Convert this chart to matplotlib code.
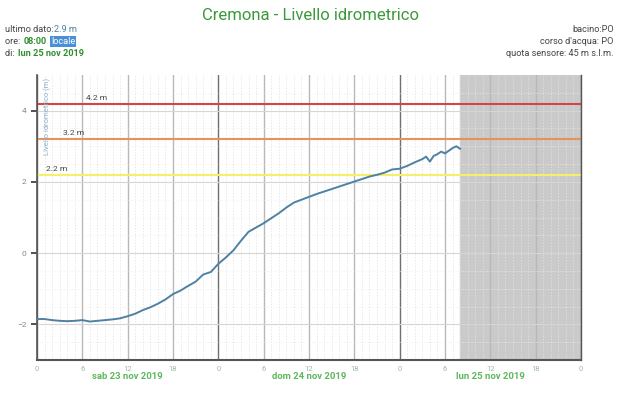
import matplotlib
matplotlib.use('Agg')
import matplotlib.pyplot as plt
from matplotlib.ticker import MultipleLocator

plt.rcParams['font.family'] = ['Roboto', 'DejaVu Sans']

# hours since 00:00 of sab 23 nov 2019
hours = [0, 1, 2, 3, 4, 5, 6, 7, 8, 9, 10, 11, 12, 13, 14, 15, 16, 17, 18, 19,
         20, 21, 22, 23, 24, 25, 26, 27, 28, 29, 30, 31, 32, 33, 34, 35, 36, 37,
         38, 39, 40, 41, 42, 43, 44, 45, 46, 47, 48, 49, 50, 51, 51.5, 52, 52.5,
         53, 53.5, 54, 55, 55.5, 56]
level = [-1.85, -1.85, -1.88, -1.90, -1.91, -1.90, -1.88, -1.92, -1.90, -1.88,
         -1.86, -1.83, -1.77, -1.70, -1.60, -1.52, -1.42, -1.30, -1.15, -1.05,
         -0.92, -0.80, -0.60, -0.53, -0.30, -0.12, 0.08, 0.35, 0.60, 0.72,
         0.84, 0.98, 1.12, 1.28, 1.42, 1.50, 1.58, 1.66, 1.73, 1.80,
         1.87, 1.94, 2.01, 2.08, 2.15, 2.20, 2.26, 2.35, 2.37, 2.45,
         2.55, 2.64, 2.71, 2.57, 2.73, 2.78, 2.85, 2.80, 2.95, 3.00, 2.93]

thresholds = [4.2, 3.2, 2.2]
thr_colors = ['#d64545', '#e8915a', '#f5f06a']
thr_label_x = [6.5, 3.5, 1.2]

xticks = list(range(0, 73, 6))
xticklabels = [str(h % 24) for h in xticks]
days = ['sab 23 nov 2019', 'dom 24 nov 2019', 'lun 25 nov 2019']
last_hour = 56

fig = plt.figure(figsize=(6.2, 3.95), dpi=100)
ax = fig.add_axes([0.0597, 0.0886, 0.8774, 0.7214])

# shaded future area
ax.axvspan(last_hour, 72, color='#cacaca', zorder=0)

# grid: midnight / 6h / hourly
for h in range(0, 73):
    if h % 24 == 0:
        ax.axvline(h, color='#707070', lw=1.0, zorder=1)
    elif h % 6 == 0:
        ax.axvline(h, color='#b8b8b8', lw=1.0, zorder=1)
    else:
        ax.axvline(h, color='#e2e2e2', lw=0.6, ls=(0, (1.5, 2)), zorder=1)
for v in [-2, 0, 2, 4]:
    ax.axhline(v, color='#d6d6d6', lw=0.8, zorder=1)
for v in [-2.5, -1.5, -1, -0.5, 0.5, 1, 1.5, 2.5, 3, 3.5, 4.5]:
    ax.axhline(v, color='#ececec', lw=0.5, ls=(0, (1.5, 2)), zorder=1)

# alert thresholds
for t, c, lx in zip(thresholds, thr_colors, thr_label_x):
    ax.axhline(t, color=c, lw=1.5, zorder=2)
    ax.text(lx, t + 0.08, '%.1f m' % t, fontsize=6, color='#444444',
            ha='left', va='bottom', zorder=3)

ax.plot(hours, level, color='#4f81a3', lw=1.4, zorder=4)

ax.set_xlim(0, 72)
ax.set_ylim(-3, 5)
ax.set_xticks(xticks)
ax.set_xticklabels(xticklabels, fontsize=5.5, color='#9bbd9b')
ax.yaxis.set_major_locator(MultipleLocator(2))
ax.tick_params(axis='y', labelsize=6, colors='#333333', length=4, width=1.2,
               direction='out', labelcolor='#888888')
ax.tick_params(axis='x', length=0, pad=4)
ax.spines['top'].set_visible(False)
ax.spines['left'].set_color('#555555')
ax.spines['left'].set_linewidth(1.2)
ax.spines['bottom'].set_color('#555555')
ax.spines['bottom'].set_linewidth(1.5)
ax.spines['right'].set_color('#555555')
ax.spines['right'].set_linewidth(1.0)

ax.text(0.012, 0.99, 'Livello idrometrico (m)', transform=ax.transAxes,
        rotation=90, fontsize=5.5, color='#8fb0c8', ha='left', va='top')

for i, d in enumerate(days):
    ax.text(12 + 24 * i, -3.45, d, fontsize=6.8, fontweight='bold',
            color='#5cb85c', ha='center', va='center')

# header
fig.text(0.5, 0.962, 'Cremona - Livello idrometrico', fontsize=12,
         color='#3a9a3a', ha='center', va='center')
gray = '#444444'
green = '#2f8f2f'
fs = 6.6

line1 = fig.text(0.008, 0.925, 'ultimo dato:', fontsize=fs, color=gray, va='center')
ax.annotate('2.9 m', xy=(1, 0.5), xycoords=line1, xytext=(0.5, 0),
            textcoords='offset points', fontsize=fs, color='#4f81a3',
            va='center', ha='left', annotation_clip=False)
line2 = fig.text(0.008, 0.895, 'ore: ', fontsize=fs, color=gray, va='center')
b = ax.annotate('08:00', xy=(1, 0.5), xycoords=line2, xytext=(1, 0),
                textcoords='offset points', fontsize=fs, color=green,
                fontweight='bold', va='center', ha='left', annotation_clip=False)
ax.annotate('locale', xy=(1, 0.5), xycoords=b, xytext=(3, 0),
            textcoords='offset points', fontsize=fs, color='white',
            va='center', ha='left', annotation_clip=False,
            bbox=dict(boxstyle='square,pad=0.1', fc='#4a90d9', ec='none'))
line3 = fig.text(0.008, 0.865, 'di: ', fontsize=fs, color=gray, va='center')
ax.annotate('lun 25 nov 2019', xy=(1, 0.5), xycoords=line3, xytext=(1, 0),
            textcoords='offset points', fontsize=fs, color=green,
            fontweight='bold', va='center', ha='left', annotation_clip=False)

fig.text(0.99, 0.925, 'bacino:PO', fontsize=fs, color=gray, ha='right', va='center')
fig.text(0.99, 0.895, "corso d'acqua: PO", fontsize=fs, color=gray, ha='right',
         va='center')
fig.text(0.99, 0.865, 'quota sensore: 45 m s.l.m.', fontsize=fs, color=gray,
         ha='right', va='center')

fig.savefig('out.png', dpi=100)
